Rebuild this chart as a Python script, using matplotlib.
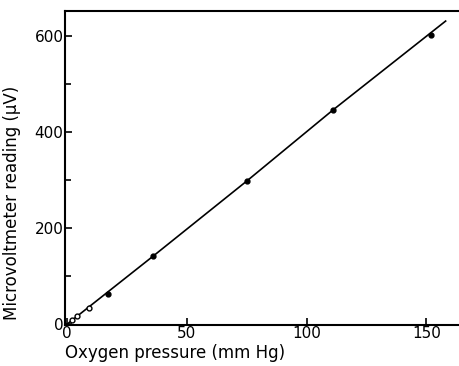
import matplotlib.pyplot as plt
import numpy as np

# readings
pressure = [2, 4, 9, 17, 36, 75, 111, 152]
reading = [8, 16, 33, 63, 142, 298, 446, 602]
# drawn calibration line
line_p = [0, 36, 75, 111, 158]
line_r = [0, 142, 298, 446, 631]

xticks = [0, 50, 100, 150]
yticks = [0, 200, 400, 600]
yminor = [100, 300, 500]

fig = plt.figure(figsize=(4.6, 3.66), dpi=100)
ax = fig.add_axes([0.141, 0.112, 0.859, 0.858])

ax.plot(line_p, line_r, color='black', linewidth=1.2)
ax.plot(pressure[:3], reading[:3], 'o', markersize=3.5, markerfacecolor='white',
        markeredgecolor='black', markeredgewidth=1)
ax.plot(pressure[3:], reading[3:], 'o', markersize=3.5, color='black')

ax.set_xlim(-1, 164)
ax.set_ylim(-2, 652)
ax.set_xticks(xticks)
ax.set_yticks(yticks)
ax.set_yticks(yminor, minor=True)
ax.tick_params(direction='in', length=5, width=1.2, labelsize=11, pad=1)
ax.tick_params(which='minor', direction='in', length=4, width=1.2)
ax.spines['right'].set_visible(False)
for s in ['left', 'bottom', 'top']:
    ax.spines[s].set_linewidth(1.5)

ax.set_xlabel('Oxygen pressure (mm Hg)', fontsize=12)
ax.xaxis.set_label_coords(0.28, -0.062)
ax.set_ylabel('Microvoltmeter reading (\u03bcV)', fontsize=12)
ax.yaxis.set_label_coords(-0.11, 0.39)

fig.savefig('out.png')
